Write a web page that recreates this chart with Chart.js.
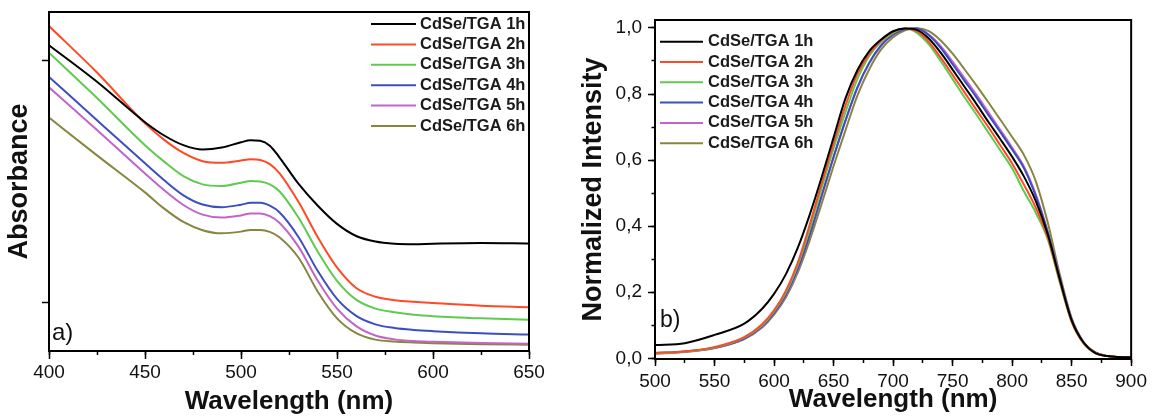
<!DOCTYPE html>
<html>
<head>
<meta charset="utf-8">
<script src="https://cdn.jsdelivr.net/npm/chart.js@4.4.1/dist/chart.umd.min.js"></script>
<style>
  body { margin: 0; background: #fff; }
  #wrap { position: relative; width: 1153px; height: 417px; overflow: hidden; }
  #absChart { position: absolute; left: 0; top: 0; }
  #plChart { position: absolute; left: 575px; top: 0; }
</style>
</head>
<body>
<div id="wrap">
  <canvas id="absChart" width="575" height="417"></canvas>
  <canvas id="plChart" width="578" height="417"></canvas>
</div>
<script>
// sample names, same for both panels
const seriesNames = ['CdSe/TGA 1h', 'CdSe/TGA 2h', 'CdSe/TGA 3h', 'CdSe/TGA 4h', 'CdSe/TGA 5h', 'CdSe/TGA 6h'];

// a) absorbance (arbitrary units)
const absWavelength = [400, 425, 450, 460, 470, 480, 490, 500, 505, 510, 515, 520, 530, 540, 550, 560, 570, 580, 590, 600, 625, 650];
const abs1h = [1.263, 1.112, 0.945, 0.890, 0.850, 0.832, 0.840, 0.862, 0.870, 0.868, 0.848, 0.800, 0.690, 0.600, 0.525, 0.475, 0.452, 0.443, 0.441, 0.443, 0.446, 0.444];
const abs2h = [1.342, 1.150, 0.940, 0.872, 0.818, 0.784, 0.777, 0.787, 0.792, 0.789, 0.772, 0.735, 0.615, 0.470, 0.345, 0.260, 0.224, 0.210, 0.203, 0.198, 0.187, 0.181];
const abs3h = [1.232, 1.045, 0.850, 0.782, 0.722, 0.688, 0.681, 0.695, 0.702, 0.700, 0.688, 0.660, 0.550, 0.410, 0.290, 0.212, 0.175, 0.160, 0.150, 0.144, 0.135, 0.129];
const abs4h = [1.132, 0.953, 0.775, 0.705, 0.643, 0.605, 0.594, 0.604, 0.612, 0.612, 0.600, 0.573, 0.470, 0.330, 0.215, 0.145, 0.110, 0.095, 0.087, 0.082, 0.073, 0.068];
const abs5h = [1.089, 0.913, 0.733, 0.664, 0.603, 0.563, 0.551, 0.560, 0.568, 0.568, 0.557, 0.530, 0.430, 0.290, 0.175, 0.103, 0.064, 0.048, 0.041, 0.038, 0.033, 0.030];
const abs6h = [0.964, 0.808, 0.655, 0.588, 0.533, 0.499, 0.486, 0.493, 0.500, 0.500, 0.492, 0.470, 0.385, 0.245, 0.135, 0.074, 0.047, 0.039, 0.035, 0.032, 0.028, 0.026];
const absXTicks = [400, 450, 500, 550, 600, 650];
const absXMinorTicks = [400, 425, 450, 475, 500, 525, 550, 575, 600, 625, 650];
const absYTicks = [0.2, 1.2];

// b) normalized PL intensity
const plWavelength = [500, 525, 550, 575, 590, 600, 610, 620, 630, 640, 650, 660, 670, 680, 690, 700, 710, 720, 730, 740, 750, 760, 770, 780, 790, 800, 810, 820, 830, 840, 850, 860, 870, 880, 890, 900];
const pl1h = [0.040, 0.046, 0.071, 0.105, 0.150, 0.195, 0.255, 0.335, 0.435, 0.548, 0.668, 0.787, 0.872, 0.930, 0.965, 0.990, 0.998, 0.994, 0.968, 0.925, 0.874, 0.822, 0.770, 0.716, 0.664, 0.610, 0.550, 0.475, 0.375, 0.240, 0.115, 0.048, 0.016, 0.007, 0.004, 0.003];
const pl2h = [0.016, 0.021, 0.034, 0.064, 0.103, 0.145, 0.205, 0.290, 0.405, 0.530, 0.650, 0.765, 0.860, 0.922, 0.962, 0.988, 0.998, 0.990, 0.958, 0.910, 0.858, 0.805, 0.752, 0.700, 0.645, 0.590, 0.525, 0.455, 0.365, 0.235, 0.112, 0.046, 0.016, 0.007, 0.004, 0.003];
const pl3h = [0.015, 0.020, 0.033, 0.063, 0.100, 0.142, 0.200, 0.283, 0.392, 0.515, 0.635, 0.745, 0.845, 0.915, 0.958, 0.985, 0.998, 0.985, 0.950, 0.900, 0.845, 0.790, 0.738, 0.684, 0.630, 0.575, 0.505, 0.440, 0.360, 0.230, 0.110, 0.045, 0.015, 0.007, 0.004, 0.003];
const pl4h = [0.016, 0.021, 0.032, 0.060, 0.097, 0.137, 0.193, 0.272, 0.375, 0.493, 0.610, 0.720, 0.820, 0.895, 0.948, 0.980, 0.996, 0.998, 0.978, 0.940, 0.890, 0.840, 0.790, 0.737, 0.685, 0.632, 0.575, 0.490, 0.380, 0.245, 0.118, 0.048, 0.017, 0.007, 0.004, 0.003];
const pl5h = [0.014, 0.019, 0.031, 0.059, 0.095, 0.135, 0.190, 0.268, 0.372, 0.490, 0.607, 0.718, 0.818, 0.893, 0.946, 0.979, 0.995, 0.998, 0.980, 0.945, 0.898, 0.848, 0.798, 0.745, 0.692, 0.638, 0.580, 0.495, 0.383, 0.245, 0.118, 0.048, 0.017, 0.007, 0.004, 0.003];
const pl6h = [0.015, 0.020, 0.031, 0.058, 0.093, 0.132, 0.185, 0.260, 0.358, 0.468, 0.582, 0.690, 0.795, 0.875, 0.935, 0.972, 0.993, 0.999, 0.990, 0.962, 0.922, 0.875, 0.826, 0.775, 0.723, 0.670, 0.615, 0.535, 0.410, 0.255, 0.122, 0.050, 0.018, 0.007, 0.004, 0.003];
const plXTicks = [500, 550, 600, 650, 700, 750, 800, 850, 900];
const plXMinorTicks = [500, 525, 550, 575, 600, 625, 650, 675, 700, 725, 750, 775, 800, 825, 850, 875, 900];
const plYTicks = [0, 0.2, 0.4, 0.6, 0.8, 1.0];
const plYMinorTicks = [0, 0.1, 0.2, 0.3, 0.4, 0.5, 0.6, 0.7, 0.8, 0.9, 1.0];

const lineColors = ['#000000', '#ff4a26', '#5ecb4e', '#3b4fc0', '#c265c8', '#86863f'];
const FONT = 'Arial, "Liberation Sans", sans-serif';

Chart.defaults.font.family = FONT;
Chart.defaults.color = '#111';

function toPoints(xs, ys) {
  return xs.map((x, i) => ({x: x, y: ys[i]}));
}

function makeDatasets(xs, series) {
  return series.map((ys, i) => ({
    label: seriesNames[i],
    data: toPoints(xs, ys),
    borderColor: lineColors[i],
    borderWidth: 2,
    pointRadius: 0,
    fill: false,
    cubicInterpolationMode: 'monotone'
  }));
}

function fixedTicks(list) {
  return function(scale) {
    scale.ticks = list.map(v => ({value: v}));
  };
}

// frame, in-plot legend and panel letter
const panelDecor = {
  id: 'panelDecor',
  afterDatasetsDraw(chart, args, opts) {
    const ctx = chart.ctx;
    const a = chart.chartArea;
    ctx.save();
    ctx.strokeStyle = '#000';
    ctx.lineWidth = 2;
    ctx.strokeRect(a.left, a.top, a.right - a.left, a.bottom - a.top);

    ctx.font = 'bold 16.5px ' + FONT;
    ctx.textBaseline = 'middle';
    ctx.textAlign = 'left';
    chart.data.datasets.forEach((ds, i) => {
      const y = opts.rowY + i * opts.rowStep;
      ctx.strokeStyle = ds.borderColor;
      ctx.lineWidth = 2;
      ctx.beginPath();
      ctx.moveTo(opts.lineX0, y);
      ctx.lineTo(opts.lineX1, y);
      ctx.stroke();
      ctx.fillStyle = '#1a1a1a';
      ctx.fillText(ds.label, opts.textX, y);
    });

    ctx.font = opts.tagSize + 'px ' + FONT;
    ctx.textBaseline = 'alphabetic';
    ctx.fillStyle = '#111';
    ctx.fillText(opts.tag, opts.tagX, opts.tagY);
    ctx.restore();
  }
};

const gridOff = {drawOnChartArea: false, color: '#000', tickColor: '#000', tickWidth: 1.5};

// ---- panel a
new Chart(document.getElementById('absChart').getContext('2d'), {
  type: 'line',
  data: {
    datasets: makeDatasets(absWavelength, [abs1h, abs2h, abs3h, abs4h, abs5h, abs6h])
  },
  plugins: [panelDecor],
  options: {
    responsive: false,
    animation: false,
    layout: {autoPadding: false, padding: {top: 12, right: 46, left: 0, bottom: 0}},
    plugins: {
      legend: {display: false},
      tooltip: {enabled: false},
      panelDecor: {lineX0: 371, lineX1: 416, textX: 420, rowY: 24, rowStep: 20.4,
                   tag: 'a)', tagSize: 24, tagX: 52, tagY: 340}
    },
    scales: {
      xMinor: {
        type: 'linear', position: 'bottom', weight: 0, min: 400, max: 650,
        afterBuildTicks: fixedTicks(absXMinorTicks),
        afterFit: s => { s.height = 0; },
        ticks: {display: false},
        border: {display: false},
        grid: Object.assign({}, gridOff, {tickLength: 4})
      },
      x: {
        type: 'linear', position: 'bottom', weight: 1, min: 400, max: 650,
        afterBuildTicks: fixedTicks(absXTicks),
        afterFit: s => { s.height = 66; },
        ticks: {font: {size: 19, lineHeight: 1}, padding: 4, maxRotation: 0, color: '#111'},
        border: {display: true, color: '#000', width: 2},
        grid: Object.assign({}, gridOff, {tickLength: 8}),
        title: {display: true, text: 'Wavelength (nm)', color: '#111',
                font: {size: 26, weight: 'bold', lineHeight: 1}, padding: {top: 0, bottom: 2}}
      },
      y: {
        type: 'linear', position: 'left', min: 0, max: 1.4,
        afterBuildTicks: fixedTicks(absYTicks),
        afterFit: s => { s.width = 49; },
        ticks: {display: false},
        border: {display: true, color: '#000', width: 2},
        grid: Object.assign({}, gridOff, {tickLength: 7}),
        title: {display: true, text: 'Absorbance', color: '#111',
                font: {size: 27, weight: 'bold', lineHeight: 1}, padding: {top: 6, bottom: 0}}
      }
    }
  }
});

// ---- panel b
new Chart(document.getElementById('plChart').getContext('2d'), {
  type: 'line',
  data: {
    datasets: makeDatasets(plWavelength, [pl1h, pl2h, pl3h, pl4h, pl5h, pl6h])
  },
  plugins: [panelDecor],
  options: {
    responsive: false,
    animation: false,
    layout: {autoPadding: false, padding: {top: 20, right: 20, left: 0, bottom: 0}},
    plugins: {
      legend: {display: false},
      tooltip: {enabled: false},
      panelDecor: {lineX0: 85, lineX1: 128, textX: 133, rowY: 41.7, rowStep: 20.3,
                   tag: 'b)', tagSize: 23, tagX: 85, tagY: 327}
    },
    scales: {
      xMinor: {
        type: 'linear', position: 'bottom', weight: 0, min: 500, max: 900,
        afterBuildTicks: fixedTicks(plXMinorTicks),
        afterFit: s => { s.height = 0; },
        ticks: {display: false},
        border: {display: false},
        grid: Object.assign({}, gridOff, {tickLength: 4})
      },
      x: {
        type: 'linear', position: 'bottom', weight: 1, min: 500, max: 900,
        afterBuildTicks: fixedTicks(plXTicks),
        afterFit: s => { s.height = 58; },
        ticks: {font: {size: 19, lineHeight: 1}, padding: 6, maxRotation: 0, color: '#111'},
        border: {display: true, color: '#000', width: 2},
        grid: Object.assign({}, gridOff, {tickLength: 7}),
        title: {display: true, text: 'Wavelength (nm)', color: '#111',
                font: {size: 26, weight: 'bold', lineHeight: 1}, padding: {top: 0, bottom: 4}}
      },
      yMinor: {
        type: 'linear', position: 'left', weight: 0, min: -0.002, max: 1.024,
        afterBuildTicks: fixedTicks(plYMinorTicks),
        afterFit: s => { s.width = 0; },
        ticks: {display: false},
        border: {display: false},
        grid: Object.assign({}, gridOff, {tickLength: 3.5})
      },
      y: {
        type: 'linear', position: 'left', weight: 1, min: -0.002, max: 1.024,
        afterBuildTicks: fixedTicks(plYTicks),
        afterFit: s => { s.width = 80; },
        ticks: {font: {size: 19, lineHeight: 1}, padding: 6, color: '#111',
                callback: v => v.toFixed(1).replace('.', ',')},
        border: {display: true, color: '#000', width: 2},
        grid: Object.assign({}, gridOff, {tickLength: 7}),
        title: {display: true, text: 'Normalized Intensity', color: '#111',
                font: {size: 27, weight: 'bold', lineHeight: 1}, padding: {top: 5.5, bottom: 0}}
      }
    }
  }
});
</script>
</body>
</html>
